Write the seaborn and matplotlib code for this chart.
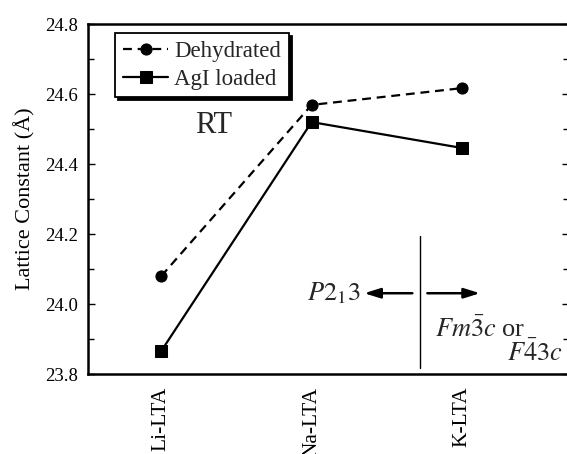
import matplotlib
matplotlib.use("Agg")
import matplotlib.pyplot as plt
import pandas as pd
import seaborn as sns
from matplotlib.ticker import FormatStrFormatter, MultipleLocator

samples = ["Li-LTA", "Na-LTA", "K-LTA"]
dehydrated = [24.08, 24.569, 24.617]
agi_loaded = [23.866, 24.52, 24.446]

df = pd.DataFrame({"Sample": samples, "Dehydrated": dehydrated, "AgI loaded": agi_loaded})

sns.set_theme(style="ticks")
plt.rcParams["font.family"] = ["Liberation Serif", "DejaVu Serif"]
plt.rcParams["mathtext.fontset"] = "stix"

fig = plt.figure(figsize=(5.67, 4.54), dpi=100)
ax = fig.add_axes([0.155, 0.176, 0.848, 0.771])

sns.lineplot(data=df, x="Sample", y="Dehydrated", ax=ax, color="black",
             linestyle=(0, (4, 2.6)), linewidth=1.6, marker="o", markersize=8,
             markeredgecolor="black", label="Dehydrated", sort=False)
sns.lineplot(data=df, x="Sample", y="AgI loaded", ax=ax, color="black",
             linestyle="-", linewidth=1.6, marker="s", markersize=8,
             markeredgecolor="black", label="AgI loaded", sort=False)

ax.set_xlim(-0.488, 2.71)
ax.set_ylim(23.8, 24.8)
ax.yaxis.set_major_locator(MultipleLocator(0.2))
ax.yaxis.set_minor_locator(MultipleLocator(0.1))
ax.yaxis.set_major_formatter(FormatStrFormatter("%.1f"))
ax.tick_params(axis="y", which="both", direction="in", right=True, labelsize=13.5,
               width=1, color="black", labelcolor="black", pad=7)
ax.tick_params(axis="y", which="major", length=5)
ax.tick_params(axis="y", which="minor", length=4)
ax.tick_params(axis="x", length=0, labelsize=15.5, labelrotation=90, pad=9,
               labelcolor="black")
ax.set_xlabel("")
ax.set_ylabel("Lattice Constant (Å)", fontsize=16, color="black", labelpad=7)
for s in ax.spines.values():
    s.set_linewidth(1.8)
    s.set_color("black")
ax.grid(False)

leg = ax.legend(loc="upper left", bbox_to_anchor=(0.056, 0.975), fontsize=16.5,
                frameon=True, fancybox=False, shadow={"color": "black", "alpha": 1},
                edgecolor="black", handlelength=2.0, handletextpad=0.25,
                borderpad=0.34, labelspacing=0.3, borderaxespad=0)
leg.get_frame().set_linewidth(1.3)
leg.get_frame().set_alpha(1)

ax.text(0.35, 24.51, "RT", fontsize=22, ha="center", va="center")

ax.plot([1.72, 1.72], [23.817, 24.194], color="black", linewidth=1)
arrow = dict(arrowstyle="-|>,head_length=0.8,head_width=0.25",
             color="black", linewidth=1.8, shrinkA=0, shrinkB=0)
ax.annotate("", xy=(1.35, 24.031), xytext=(1.67, 24.031), arrowprops=arrow)
ax.annotate("", xy=(2.12, 24.031), xytext=(1.77, 24.031), arrowprops=arrow)
ax.text(1.325, 24.031, r"$P2_13$", fontsize=19, ha="right", va="center")
ax.text(1.82, 23.928, r"$Fm\bar{3}c$ or", fontsize=19, ha="left", va="center")
ax.text(2.3, 23.862, r"$F\bar{4}3c$", fontsize=19, ha="left", va="center")

fig.savefig("out.png", dpi=100)
